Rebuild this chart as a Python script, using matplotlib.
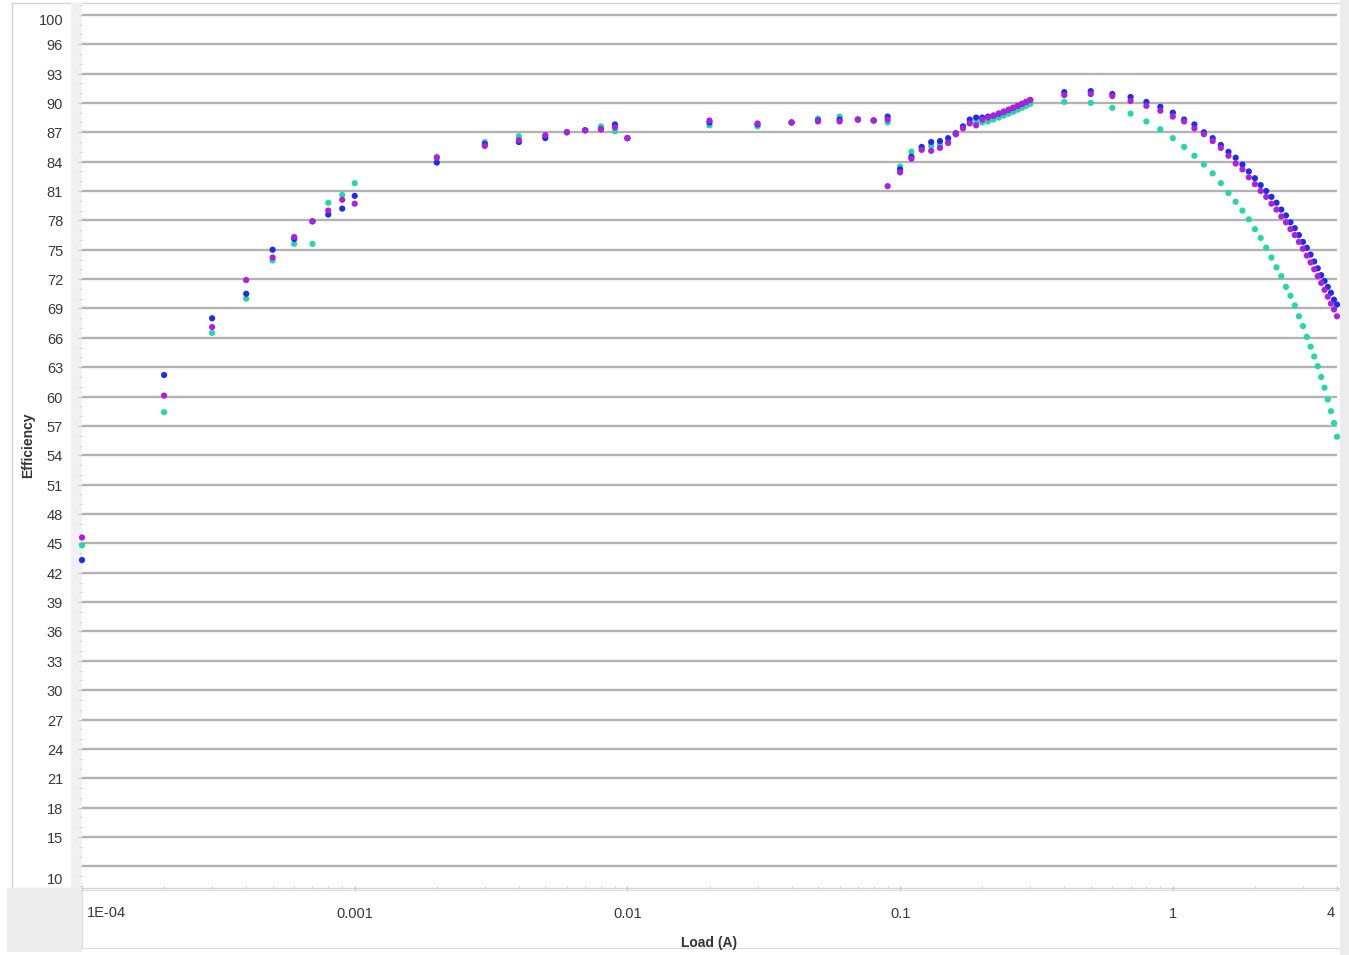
import matplotlib
matplotlib.use("Agg")
import matplotlib.pyplot as plt
from matplotlib.patches import Rectangle
from matplotlib.ticker import FixedLocator, NullFormatter
from matplotlib.transforms import offset_copy
import numpy as np

plt.rcParams["font.family"] = ["Liberation Sans", "DejaVu Sans"]

# ---- load points (A), one list per measurement range ----
load_low = [0.0001, 0.0002, 0.0003, 0.0004, 0.0005, 0.0006, 0.0007, 0.0008, 0.0009, 0.001,
            0.002, 0.003, 0.004, 0.005, 0.006, 0.007, 0.008, 0.009, 0.01,
            0.02, 0.03, 0.04, 0.05, 0.06, 0.07, 0.08, 0.09]
load_mid = [0.09, 0.10, 0.11, 0.12, 0.13, 0.14, 0.15, 0.16, 0.17, 0.18, 0.19, 0.20,
            0.21, 0.22, 0.23, 0.24, 0.25, 0.26, 0.27, 0.28, 0.29, 0.30]
load_high = [0.4, 0.5, 0.6, 0.7, 0.8, 0.9, 1.0, 1.1, 1.2, 1.3, 1.4, 1.5, 1.6, 1.7, 1.8, 1.9,
             2.0, 2.1, 2.2, 2.3, 2.4, 2.5, 2.6, 2.7, 2.8, 2.9, 3.0, 3.1, 3.2, 3.3, 3.4, 3.5,
             3.6, 3.7, 3.8, 3.9, 4.0]

# ---- efficiency (%) per series ----
blue_low = [43.3, 62.2, 68.0, 70.5, 75.0, 76.1, 77.9, 78.6, 79.2, 80.5,
            83.9, 85.8, 86.0, 86.4, 87.0, 87.2, 87.3, 87.8, 86.4,
            88.0, 87.8, 88.0, 88.2, 88.3, 88.3, 88.2, 88.6]
magenta_low = [45.6, 60.1, 67.1, 71.9, 74.2, 76.3, 77.9, 79.0, 80.1, 79.7,
               84.4, 85.6, 86.2, 86.7, 87.0, 87.2, 87.3, 87.5, 86.4,
               88.2, 87.9, 88.0, 88.1, 88.1, 88.3, 88.2, 88.3]
teal_low = [44.8, 58.4, 66.5, 70.0, 73.9, 75.6, 75.6, 79.8, 80.6, 81.8,
            84.5, 86.0, 86.6, 86.6, 87.0, 87.2, 87.6, 87.1, 86.4,
            87.7, 87.6, 88.0, 88.4, 88.6, 88.3, 88.2, 88.0]

blue_mid = [np.nan, 83.2, 84.5, 85.5, 86.0, 86.1, 86.4, 86.9, 87.6, 88.3, 88.5, 88.5,
            88.6, 88.7, 88.9, 89.1, 89.3, 89.5, 89.7, 89.9, 90.1, 90.3]
magenta_mid = [81.5, 82.9, 84.3, 85.2, 85.1, 85.4, 85.9, 86.8, 87.4, 87.9, 87.7, 88.3,
               88.5, 88.7, 88.9, 89.1, 89.3, 89.5, 89.7, 89.9, 90.1, 90.3]
teal_mid = [np.nan, 83.5, 85.0, 85.4, 85.6, 85.7, 86.0, 86.8, 87.5, 88.0, 88.0, 88.0,
            88.1, 88.3, 88.5, 88.7, 88.9, 89.1, 89.3, 89.5, 89.7, 89.9]

blue_high = [91.1, 91.2, 90.9, 90.6, 90.1, 89.6, 89.0, 88.3, 87.8, 87.0, 86.4, 85.7, 85.0,
             84.4, 83.7, 83.0, 82.3, 81.6, 81.0, 80.4, 79.8, 79.1, 78.5, 77.8, 77.2, 76.5,
             75.8, 75.2, 74.5, 73.8, 73.1, 72.4, 71.8, 71.2, 70.6, 69.9, 69.4]
magenta_high = [90.8, 90.9, 90.7, 90.2, 89.7, 89.2, 88.6, 88.1, 87.4, 86.8, 86.1, 85.4, 84.6,
                83.8, 83.2, 82.4, 81.7, 81.0, 80.4, 79.7, 79.1, 78.4, 77.8, 77.1, 76.5, 75.8,
                75.1, 74.4, 73.7, 73.0, 72.3, 71.6, 70.9, 70.2, 69.5, 68.9, 68.2]
teal_high = [90.1, 90.0, 89.5, 88.9, 88.1, 87.3, 86.4, 85.5, 84.6, 83.7, 82.8, 81.8, 80.8,
             79.9, 79.0, 78.1, 77.1, 76.2, 75.2, 74.2, 73.2, 72.3, 71.2, 70.3, 69.3, 68.2,
             67.2, 66.1, 65.1, 64.1, 63.1, 62.0, 60.9, 59.7, 58.5, 57.3, 55.9]

series = [
    ("#22d8a8", teal_low + teal_mid + teal_high),
    ("#1c2ee8", blue_low + blue_mid + blue_high),
    ("#b01ee0", magenta_low + magenta_mid + magenta_high),
]
loads = load_low + load_mid + load_high

x_tick_values = [0.0001, 0.001, 0.01, 0.1, 1, 4]
x_tick_labels = ["1E-04", "0.001", "0.01", "0.1", "1", "4"]
y_grid_values = list(range(12, 100, 3))
y_label_values = [15, 18, 21, 24, 27, 30, 33, 36, 39, 42, 45, 48, 51, 54, 57, 60,
                  63, 66, 69, 72, 75, 78, 81, 84, 87, 90, 93, 96]

W, H = 1349, 955
fig = plt.figure(figsize=(W / 100, H / 100), dpi=100)
fig.patch.set_facecolor("white")


def frect(x0, y0, x1, y1, **kw):
    """Rectangle in pixel coordinates measured from the top-left corner."""
    r = Rectangle((x0 / W, 1 - y1 / H), (x1 - x0) / W, (y1 - y0) / H,
                  transform=fig.transFigure, **kw)
    fig.add_artist(r)


# panel frames
frect(12, 3, 1343, 888, facecolor="white", edgecolor="#d4d4d4", linewidth=1.0, zorder=0)
frect(7, 888, 82, 952, facecolor="#ececec", edgecolor="none", zorder=0)
frect(82, 890, 1341, 948, facecolor="white", edgecolor="#dcdcdc", linewidth=0.8, zorder=0)
frect(1340, 0, 1349, 955, facecolor="#ececec", edgecolor="none", zorder=0)
frect(71, 3, 82, 888, facecolor="#f1f1f1", edgecolor="none", zorder=0)

left, right, top, bottom = 82, 1337, 5, 886
ax = fig.add_axes([left / W, 1 - bottom / H, (right - left) / W, (bottom - top) / H])
ax.set_facecolor("white")
ax.set_xscale("log")
ax.set_xlim(1e-4, 4)
ax.set_ylim(10, 100)

for color, vals in series:
    ax.scatter(loads, vals, s=20, color=color, edgecolors="none", zorder=3, clip_on=False)

# horizontal grid
for v in y_grid_values:
    ax.axhline(v, color="#b2b2b2", linewidth=1.7, zorder=1)

for s in ax.spines.values():
    s.set_visible(False)

label_color = "#383838"

# y axis: tick marks from the locator, labels as text sitting just under each grid line
ax.yaxis.set_major_locator(FixedLocator(y_label_values))
ax.yaxis.set_major_formatter(NullFormatter())
ax.yaxis.set_minor_locator(FixedLocator([v for v in range(10, 101) if v not in y_label_values]))
ax.tick_params(axis="y", which="major", length=3, width=0.8, color="#c4c4c4")
ax.tick_params(axis="y", which="minor", length=2, width=0.6, color="#d0d0d0")
ylab_trans = offset_copy(ax.get_yaxis_transform(), fig=fig, x=-19, y=-2, units="dots")
for v in y_label_values:
    ax.text(0, v, str(v), transform=ylab_trans, ha="right", va="center",
            fontsize=10.5, color=label_color)
ax.text(0, 98.6, "100", transform=ylab_trans, ha="right", va="center",
        fontsize=10.5, color=label_color)
ax.text(0, 10.8, "10", transform=ylab_trans, ha="right", va="center",
        fontsize=10.5, color=label_color)

# x axis labels: end labels are pulled inside the axis span
ax.xaxis.set_major_locator(FixedLocator(x_tick_values))
ax.set_xticklabels([""] + x_tick_labels[1:-1] + [""])
ax.xaxis.set_minor_formatter(NullFormatter())
ax.tick_params(axis="x", which="major", length=3, width=0.8, color="#c4c4c4",
               pad=12, labelsize=10.5, labelcolor=label_color)
ax.tick_params(axis="x", which="minor", length=2, width=0.6, color="#d0d0d0")
xtrans = ax.get_xaxis_transform()
ax.text(x_tick_values[0] * 1.045, -27 / (bottom - top), x_tick_labels[0], transform=xtrans,
        ha="left", va="center", fontsize=10.5, color=label_color)
ax.text(x_tick_values[-1] / 1.02, -27 / (bottom - top), x_tick_labels[-1], transform=xtrans,
        ha="right", va="center", fontsize=10.5, color=label_color)

ax.set_xlabel("Load (A)", fontsize=10, fontweight="bold", color="#333333", labelpad=11)
ax.set_ylabel("Efficiency", fontsize=10, fontweight="bold", color="#333333", labelpad=27)

fig.savefig("out.png", dpi=100, facecolor=fig.get_facecolor())
